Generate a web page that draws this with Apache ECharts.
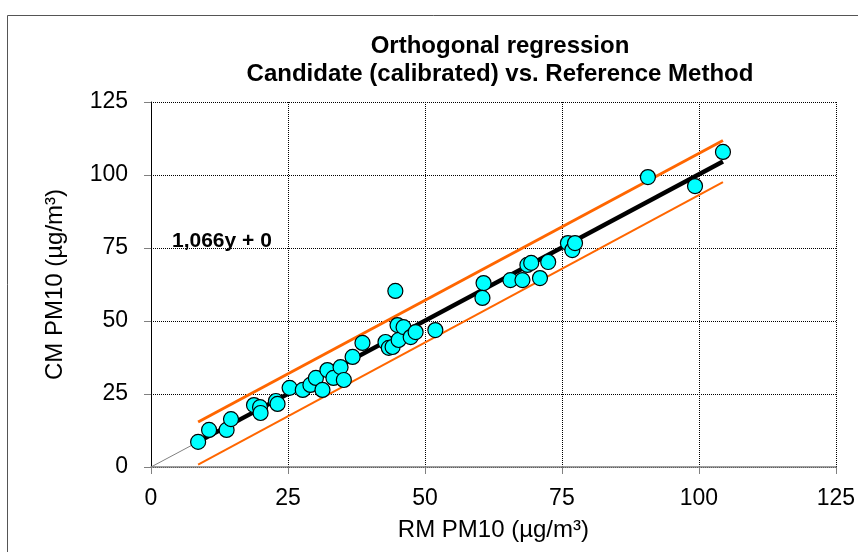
<!DOCTYPE html>
<html>
<head>
<meta charset="utf-8">
<script src="https://cdn.jsdelivr.net/npm/echarts@6/dist/echarts.min.js"></script>
<style>
	html, body { margin: 0; padding: 0; background: #fff; }
	#chart { width: 858px; height: 552px; }
</style>
</head>
<body>
<div id="chart"></div>
<script>
// reference method (x) and candidate method (y), µg/m³
const rmValues = [8.6, 10.6, 13.8, 14.6, 18.8, 19.9, 20.0, 22.8, 23.1, 25.3, 27.7, 29.1, 30.1, 31.3, 32.2, 33.3, 34.6, 35.2, 36.8, 38.6, 42.8, 43.4, 44.1, 44.6, 45.0, 45.2, 46.1, 47.4, 48.3, 51.9, 60.7, 60.5, 65.6, 67.8, 68.7, 69.4, 72.5, 71.0, 76.1, 76.9, 77.4, 90.7, 99.3, 104.4];
const cmValues = [8.6, 12.7, 12.7, 16.4, 21.2, 20.5, 18.5, 22.6, 21.6, 27.1, 26.4, 28.1, 30.5, 26.4, 33.2, 30.5, 34.2, 29.8, 37.7, 42.5, 42.8, 40.8, 41.1, 60.3, 48.6, 43.5, 47.9, 44.5, 46.2, 46.9, 63.0, 57.9, 64.0, 64.0, 69.2, 69.9, 70.2, 64.7, 76.7, 74.3, 76.7, 99.3, 96.2, 107.9];

// line end points
const identityLine = [[0, 0], [104.4, 104.4]];
const regressionLine = [[8.6, 8.6], [104.4, 104.6]];
const upperLine = [[8.6, 15.4], [104.4, 111.8]];
const lowerLine = [[8.6, 0.8], [104.4, 97.6]];

const axisTicks = [0, 25, 50, 75, 100, 125];
const equationLabel = '1,066y + 0';

const font = 'Arial, "Liberation Sans", sans-serif';
const points = rmValues.map((x, i) => [x, cmValues[i]]);

const chart = echarts.init(document.getElementById('chart'));

chart.setOption({
	animation: false,
	title: {
		text: 'Orthogonal regression\nCandidate (calibrated) vs. Reference Method',
		left: 495,
		top: 27,
		textAlign: 'center',
		textStyle: {
			fontFamily: font,
			fontSize: 24,
			fontWeight: 'bold',
			color: '#000',
			lineHeight: 28
		}
	},
	grid: {
		left: 151,
		right: 20,
		top: 102,
		bottom: 85
	},
	graphic: [
		{
			type: 'rect',
			shape: { x: 7.5, y: 15.5, width: 860, height: 545 },
			style: { fill: 'none', stroke: '#555', lineWidth: 1 },
			silent: true
		},
		{
			type: 'text',
			left: 172,
			top: 231,
			style: {
				text: equationLabel,
				font: 'bold 21px ' + font,
				fill: '#000'
			}
		}
	],
	xAxis: {
		type: 'value',
		min: axisTicks[0],
		max: axisTicks[axisTicks.length - 1],
		interval: 25,
		name: 'RM PM10 (µg/m³)',
		nameLocation: 'middle',
		nameGap: 51,
		nameTextStyle: { fontFamily: font, fontSize: 24, color: '#000' },
		axisLine: { onZero: false, lineStyle: { color: '#808080', width: 1.5 } },
		axisTick: { show: true, length: 7, lineStyle: { color: '#808080' } },
		axisLabel: { fontFamily: font, fontSize: 23, color: '#000', margin: 20 },
		splitLine: { show: true, lineStyle: { color: '#000', type: 'dotted', width: 1 } }
	},
	yAxis: {
		type: 'value',
		min: axisTicks[0],
		max: axisTicks[axisTicks.length - 1],
		interval: 25,
		name: 'CM PM10 (µg/m³)',
		nameLocation: 'middle',
		nameGap: 84,
		nameTextStyle: { fontFamily: font, fontSize: 24, color: '#000' },
		axisLine: { show: true, onZero: false, lineStyle: { color: '#000', width: 1 } },
		axisTick: { show: true, length: 7, lineStyle: { color: '#808080' } },
		axisLabel: { fontFamily: font, fontSize: 23, color: '#000', margin: 23 },
		splitLine: { show: true, lineStyle: { color: '#000', type: 'dotted', width: 1 } }
	},
	series: [
		{
			type: 'line',
			data: identityLine,
			symbol: 'none',
			lineStyle: { color: '#808080', width: 1 },
			z: 1
		},
		{
			type: 'line',
			data: upperLine,
			symbol: 'none',
			lineStyle: { color: '#FF6600', width: 3 },
			z: 2
		},
		{
			type: 'line',
			data: lowerLine,
			symbol: 'none',
			lineStyle: { color: '#FF6600', width: 2 },
			z: 2
		},
		{
			type: 'line',
			data: regressionLine,
			symbol: 'none',
			lineStyle: { color: '#000', width: 4.5 },
			z: 3
		},
		{
			type: 'scatter',
			data: points,
			symbol: 'circle',
			symbolSize: 15,
			itemStyle: { color: '#00FFFF', borderColor: '#000', borderWidth: 1.2, opacity: 1 },
			z: 4
		}
	]
});
</script>
</body>
</html>
